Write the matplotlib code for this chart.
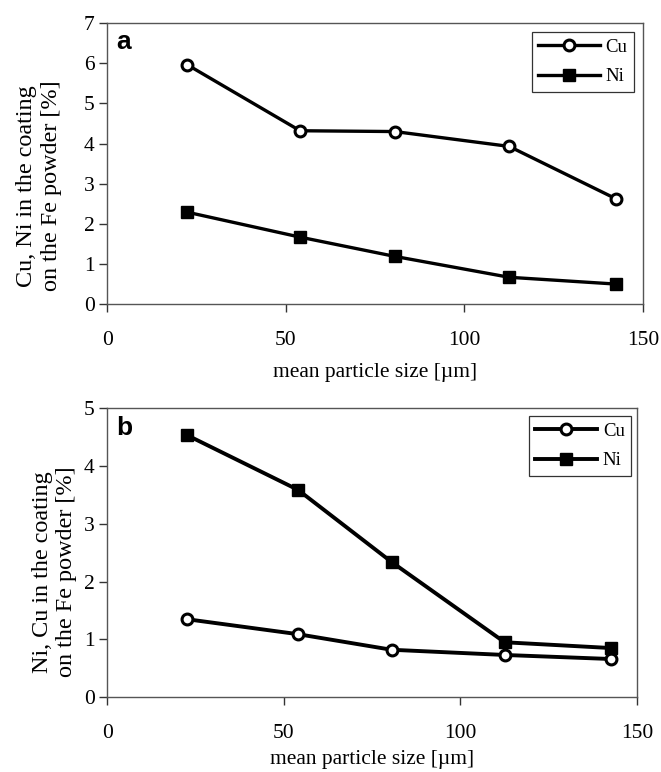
import matplotlib
matplotlib.use("Agg")
import matplotlib.pyplot as plt

# mean particle size [um]
size_um = [22.5, 54, 80.5, 112.5, 142.5]

# panel a
cu_a = [5.96, 4.32, 4.30, 3.93, 2.62]
ni_a = [2.29, 1.67, 1.19, 0.67, 0.50]

# panel b
cu_b = [1.35, 1.09, 0.82, 0.73, 0.66]
ni_b = [4.54, 3.59, 2.34, 0.95, 0.85]

x_ticks = [0, 50, 100, 150]

plt.rcParams['font.family'] = ['Liberation Serif', 'DejaVu Serif']


def style_axes(ax, ymax, ylabel, letter, xlabelpad, ylabel_xy):
    ax.set_xlim(0, 150)
    ax.set_ylim(0, ymax)
    ax.set_xticks(x_ticks)
    ax.set_yticks(range(0, ymax + 1))
    for sp in ax.spines.values():
        sp.set_color('#555555')
        sp.set_linewidth(1.0)
    ax.tick_params(axis='x', direction='out', length=6, width=1, color='#333333',
                   labelsize=15.5, pad=13)
    ax.tick_params(axis='y', direction='out', length=6, width=1, color='#333333',
                   labelsize=15.5, pad=3)
    ax.set_xlabel('mean particle size [\u00b5m]', fontsize=15.5, labelpad=xlabelpad)
    ax.set_ylabel(ylabel, fontsize=17.4, linespacing=1.2)
    ax.yaxis.set_label_coords(*ylabel_xy)
    ax.text(0.018, 0.975, letter, transform=ax.transAxes, ha='left', va='top',
            fontsize=19, fontweight='bold', family=['Liberation Sans', 'DejaVu Sans'])


def draw_series(ax, cu, ni, lw):
    ax.plot(size_um, cu, '-o', color='black', lw=lw, ms=7.8,
            mfc='white', mec='black', mew=2.2, label='Cu')
    ax.plot(size_um, ni, '-s', color='black', lw=lw, ms=8.5,
            mfc='black', mec='black', label='Ni')


fig = plt.figure(figsize=(6.61, 7.72), dpi=100)

ax_a = fig.add_axes([0.162, 0.606, 0.811, 0.364])
draw_series(ax_a, cu_a, ni_a, 2.4)
style_axes(ax_a, 7, 'Cu, Ni in the coating\non the Fe powder [%]', 'a',
           9.5, (-0.085, 0.421))

ax_b = fig.add_axes([0.162, 0.097, 0.802, 0.374])
draw_series(ax_b, cu_b, ni_b, 2.8)
style_axes(ax_b, 5, 'Ni, Cu in the coating\non the Fe powder [%]', 'b',
           5.5, (-0.057, 0.434))

for ax, anchor in ((ax_a, (0.983, 0.968)), (ax_b, (0.989, 0.973))):
    leg = ax.legend(loc='upper right', fontsize=13.5, frameon=True, fancybox=False,
                    handlelength=3.3, handletextpad=0.3, borderpad=0.35,
                    labelspacing=0.65, borderaxespad=0, bbox_to_anchor=anchor)
    leg.get_frame().set_edgecolor('black')
    leg.get_frame().set_linewidth(0.9)

fig.savefig('out.png', dpi=100)
